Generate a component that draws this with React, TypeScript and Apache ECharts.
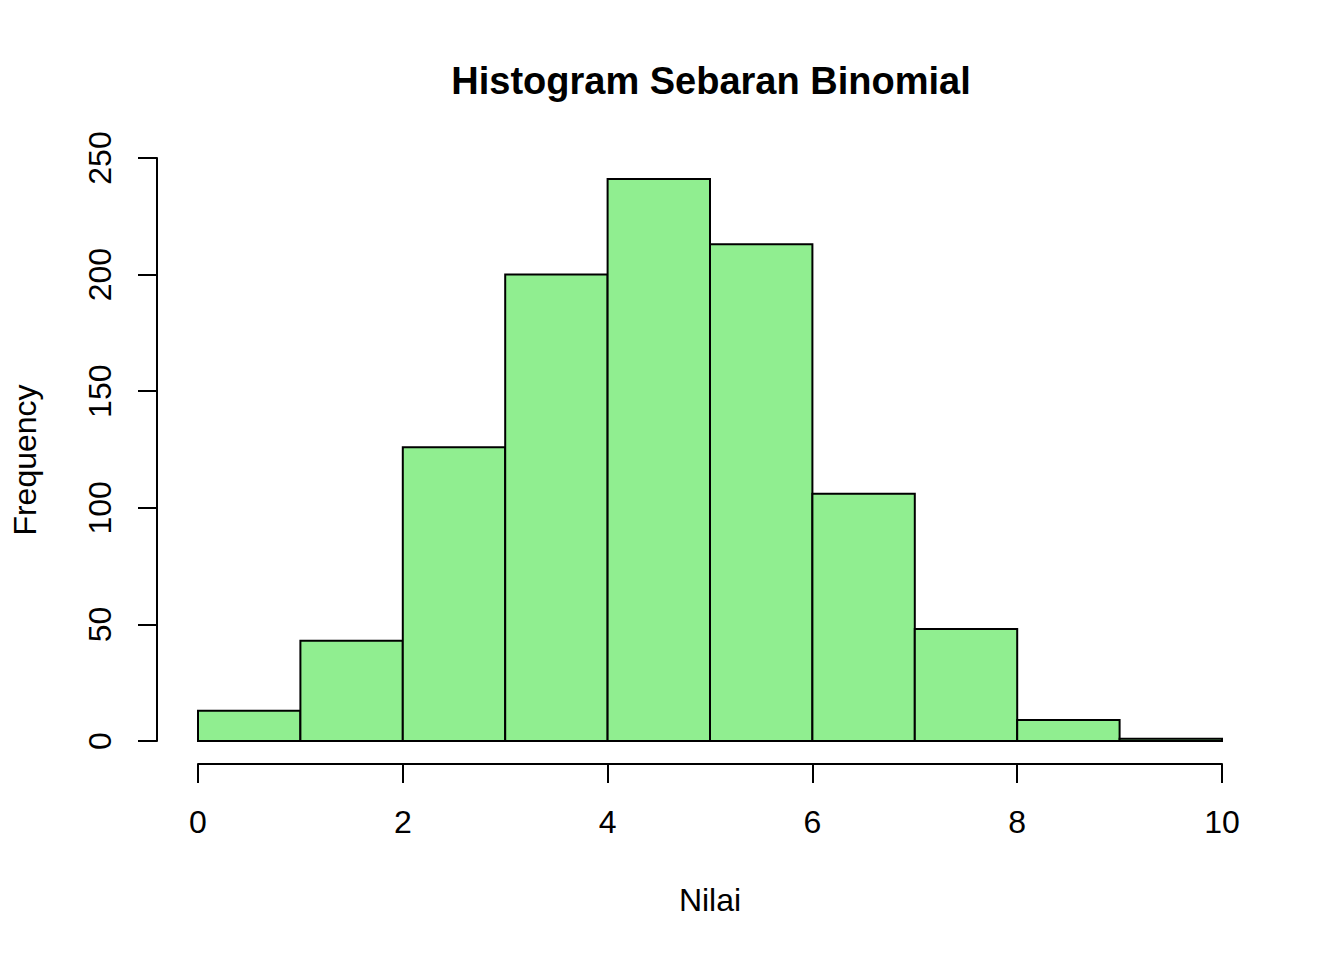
import React, { useEffect, useRef } from "react";
import * as echarts from "echarts";

const binStarts = [0, 1, 2, 3, 4, 5, 6, 7, 8, 9];
const binEnds = [1, 2, 3, 4, 5, 6, 7, 8, 9, 10];
const counts = [13, 43, 126, 200, 241, 213, 106, 48, 9, 1];
const xTicks = [0, 2, 4, 6, 8, 10];
const yTicks = [0, 50, 100, 150, 200, 250];

const FONT = "'Liberation Sans', Arial, sans-serif";

export default function App() {
  const ref = useRef<HTMLDivElement>(null);
  useEffect(() => {
    if (!ref.current) return;
    const chart = echarts.init(ref.current, null, { renderer: "svg" });
    const data = binStarts.map((s, i) => [s, binEnds[i], counts[i]]);
    chart.setOption({
      animation: false,
      backgroundColor: "#ffffff",
      title: {
        text: "Histogram Sebaran Binomial",
        left: 706,
        top: 57,
        textAlign: "center",
        textStyle: { fontFamily: FONT, fontSize: 38, fontWeight: "bold", color: "#000" },
      },
      grid: { left: 198, right: 122, top: 158, bottom: 219 },
      xAxis: {
        type: "value",
        min: 0,
        max: 10,
        interval: 2,
        offset: 23,
        splitLine: { show: false },
        axisLine: { show: true, onZero: false, lineStyle: { color: "#000", width: 2 } },
        axisTick: { show: true, length: 19, lineStyle: { color: "#000", width: 2 } },
        axisLabel: {
          margin: 42,
          fontFamily: FONT,
          fontSize: 32,
          color: "#000",
          customValues: xTicks,
        },
        name: "Nilai",
        nameLocation: "middle",
        nameGap: 120,
        nameTextStyle: { fontFamily: FONT, fontSize: 32, color: "#000" },
      },
      yAxis: {
        type: "value",
        min: 0,
        max: 250,
        interval: 50,
        offset: 41,
        splitLine: { show: false },
        axisLine: { show: true, onZero: false, lineStyle: { color: "#000", width: 2 } },
        axisTick: { show: true, length: 19, lineStyle: { color: "#000", width: 2 } },
        axisLabel: {
          margin: 41,
          rotate: 90,
          fontFamily: FONT,
          fontSize: 32,
          color: "#000",
          customValues: yTicks,
        },
      },
      graphic: [
        {
          type: "text",
          x: 25,
          y: 460,
          rotation: Math.PI / 2,
          style: {
            text: "Frequency",
            fontFamily: FONT,
            fontSize: 32,
            fill: "#000",
            textAlign: "center",
            textVerticalAlign: "middle",
          },
        },
      ],
      series: [
        {
          type: "custom",
          data,
          encode: { x: [0, 1], y: 2 },
          renderItem: (params: any, api: any) => {
            const p0 = api.coord([api.value(0), api.value(2)]);
            const p1 = api.coord([api.value(1), 0]);
            return {
              type: "rect",
              shape: { x: p0[0], y: p0[1], width: p1[0] - p0[0], height: p1[1] - p0[1] },
              style: { fill: "#90EE90", stroke: "#000", lineWidth: 2 },
            };
          },
        },
      ],
    });
    return () => chart.dispose();
  }, []);
  return (
    <div
      ref={ref}
      style={{ position: "fixed", left: 0, top: 0, width: 1344, height: 960 }}
    />
  );
}
